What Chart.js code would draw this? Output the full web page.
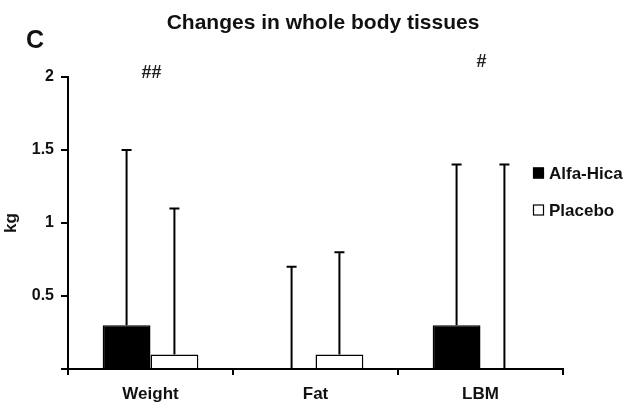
<!DOCTYPE html>
<html><head><meta charset="utf-8">
<script src="https://cdn.jsdelivr.net/npm/chart.js@4/dist/chart.umd.min.js"></script>
<style>html,body{margin:0;padding:0;background:#fff}#wrap{width:633px;height:412px}</style>
</head><body><div id="wrap"><canvas id="c" width="633" height="412"></canvas></div>
<script>
const chartTitle = 'Changes in whole body tissues';
const panelLetter = 'C';
const yAxisLabel = 'kg';
const categories = ['Weight', 'Fat', 'LBM'];
const seriesNames = ['Alfa-Hica', 'Placebo'];
const alfaHica = [0.3, 0, 0.3];
const placebo = [0.1, 0.1, 0];
const alfaHicaSD = [1.2, 0.7, 1.1];
const placeboSD = [1.0, 0.7, 1.4];
const yTickValues = [0, 0.5, 1, 1.5, 2];
const significance = ['##', '', '#'];
const significanceLevel = [2.025, null, 2.1];

const FONT = "'Liberation Sans', Arial, sans-serif";
Chart.defaults.font.family = FONT;
Chart.defaults.color = '#000';

const sdList = [alfaHicaSD, placeboSD];

const extras = {
  id: 'extras',
  afterDatasetsDraw(chart) {
    const ctx = chart.ctx;
    const y = chart.scales.y, x = chart.scales.x;
    ctx.save();
    // error bars (upper only)
    ctx.strokeStyle = '#000';
    ctx.lineWidth = 2;
    chart.data.datasets.forEach((ds, i) => {
      const meta = chart.getDatasetMeta(i);
      meta.data.forEach((bar, j) => {
        const top = y.getPixelForValue(ds.data[j] + sdList[i][j]);
        ctx.beginPath();
        ctx.moveTo(bar.x, bar.y);
        ctx.lineTo(bar.x, top);
        ctx.moveTo(bar.x - 5, top);
        ctx.lineTo(bar.x + 5, top);
        ctx.stroke();
      });
    });
    // significance marks
    ctx.fillStyle = '#222';
    ctx.font = 'bold 18px ' + FONT;
    ctx.textAlign = 'center';
    ctx.textBaseline = 'middle';
    significance.forEach((s, j) => {
      if (!s) return;
      ctx.fillText(s, x.getPixelForValue(j) + 1, y.getPixelForValue(significanceLevel[j]));
    });
    // title
    ctx.fillStyle = '#111';
    ctx.font = 'bold 21px ' + FONT;
    ctx.textBaseline = 'alphabetic';
    ctx.fillText(chartTitle, 323, 29);
    // panel letter
    ctx.textAlign = 'left';
    ctx.font = 'bold 25px ' + FONT;
    ctx.fillText(panelLetter, 26, 48);
    // legend
    const ly = [173, 210];
    ctx.font = 'bold 17px ' + FONT;
    ctx.textBaseline = 'middle';
    chart.data.datasets.forEach((ds, i) => {
      ctx.fillStyle = ds.backgroundColor;
      ctx.fillRect(533, ly[i] - 5.5, 11, 11);
      ctx.strokeStyle = '#000';
      ctx.lineWidth = 1.2;
      ctx.strokeRect(533.5, ly[i] - 5, 10, 10);
      ctx.fillStyle = '#111';
      ctx.fillText(ds.label, 549, ly[i] + 1);
    });
    ctx.restore();
  }
};

new Chart(document.getElementById('c'), {
  type: 'bar',
  data: {
    labels: categories,
    datasets: [
      { label: seriesNames[0], data: alfaHica, backgroundColor: '#000', borderColor: '#000', borderWidth: 1.5 },
      { label: seriesNames[1], data: placebo, backgroundColor: '#fff', borderColor: '#000', borderWidth: 1.5 }
    ]
  },
  options: {
    responsive: false,
    animation: false,
    devicePixelRatio: 1,
    layout: { padding: { top: 77, right: 70, left: 0, bottom: 0 } },
    plugins: { legend: { display: false }, title: { display: false }, tooltip: { enabled: false } },
    datasets: { bar: { categoryPercentage: 0.58, barPercentage: 1.0 } },
    scales: {
      x: {
        afterFit(s) { s.height = 43; },
        grid: { offset: true, drawOnChartArea: false, drawTicks: true, tickLength: 6, color: '#000', lineWidth: 2 },
        border: { display: true, color: '#000', width: 2 },
        ticks: { color: '#111', font: { size: 17, weight: 'bold' }, padding: 9 }
      },
      y: {
        min: 0, max: 2,
        afterFit(s) { s.width = 68; },
        afterBuildTicks(s) { s.ticks = yTickValues.map(v => ({ value: v })); },
        grid: { drawOnChartArea: false, drawTicks: true, tickLength: 7, color: '#000', lineWidth: 2 },
        border: { display: true, color: '#000', width: 2 },
        ticks: { color: '#111', font: { size: 16, weight: 'bold' }, padding: 7,
          callback: v => v === 0 ? '' : String(v) },
        title: { display: true, text: yAxisLabel, color: '#111', font: { size: 17, weight: 'bold' }, padding: { top: 1, bottom: 0 } }
      }
    }
  },
  plugins: [extras]
});
</script></body></html>
